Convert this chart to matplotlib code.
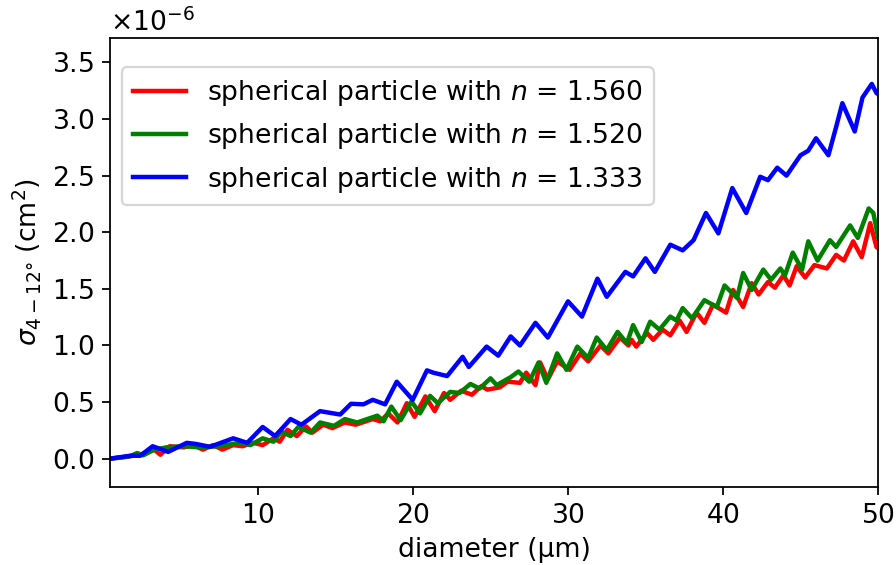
import numpy as np
import matplotlib
matplotlib.use("Agg")
import matplotlib.pyplot as plt

plt.rcParams["font.size"] = 12
plt.rcParams["axes.formatter.use_mathtext"] = True

# values, cross sections in units of 1e-6 cm^2
d_1333 = [0.45, 1.74, 2.4, 3.2, 4.2, 5.4, 6.0, 6.9, 8.4, 9.3, 10.3, 11.1, 12.1, 12.8,
          14.0, 15.3, 16.0, 16.8, 17.4, 18.2, 18.95, 19.98, 20.9, 21.3, 22.2, 23.2,
          23.6, 24.75, 25.5, 26.3, 26.9, 27.9, 28.7, 30.0, 30.9, 31.9, 32.5, 33.7,
          34.2, 35.0, 35.6, 36.6, 37.4, 38.1, 38.9, 39.7, 40.6, 41.5, 42.4, 42.9,
          43.5, 44.1, 45.0, 45.5, 46.0, 46.8, 47.3, 47.7, 48.5, 49.0, 49.6, 49.9, 50.0]
s_1333 = [0.0, 0.026, 0.026, 0.11, 0.06, 0.14, 0.13, 0.105, 0.18, 0.14, 0.28, 0.20, 0.35, 0.30,
          0.42, 0.39, 0.485, 0.48, 0.52, 0.48, 0.68, 0.52, 0.78, 0.76, 0.73, 0.90,
          0.81, 0.99, 0.91, 1.08, 1.00, 1.20, 1.07, 1.39, 1.255, 1.59, 1.43, 1.65,
          1.61, 1.77, 1.65, 1.89, 1.84, 1.93, 2.17, 1.99, 2.39, 2.17, 2.49, 2.46,
          2.57, 2.50, 2.68, 2.72, 2.83, 2.68, 2.93, 3.14, 2.89, 3.19, 3.31, 3.23, 3.22]

d_1520 = [0.45, 1.7, 2.2, 2.6, 3.3, 4.1, 5.2, 6.3, 7.5, 8.8, 9.5, 10.3, 11.0, 11.5, 12.1,
          12.6, 13.4, 14.0, 14.9, 15.6, 16.4, 17.7, 18.1, 18.6, 19.2, 19.9, 20.45,
          21.1, 21.6, 22.4, 23.0, 23.7, 24.3, 25.0, 25.4, 26.3, 26.8, 27.5, 28.1,
          28.6, 29.3, 29.9, 30.6, 31.3, 31.85, 32.5, 33.2, 33.8, 34.2, 34.75, 35.3,
          35.9, 36.6, 37.0, 37.4, 38.0, 38.8, 39.6, 40.1, 40.9, 41.3, 41.85, 42.6,
          43.1, 43.7, 44.0, 44.5, 45.1, 45.5, 46.1, 46.9, 47.3, 48.2, 48.7, 49.4,
          49.7, 50.0]
s_1520 = [0.0, 0.02, 0.05, 0.03, 0.08, 0.10, 0.11, 0.10, 0.11, 0.14, 0.12, 0.18, 0.15, 0.24, 0.20,
          0.28, 0.23, 0.32, 0.29, 0.35, 0.32, 0.38, 0.33, 0.46, 0.34, 0.505, 0.40,
          0.555, 0.49, 0.59, 0.58, 0.66, 0.62, 0.71, 0.65, 0.72, 0.77, 0.68, 0.85,
          0.67, 0.93, 0.785, 0.99, 0.89, 1.07, 0.96, 1.12, 1.02, 1.18, 1.03, 1.21,
          1.14, 1.255, 1.22, 1.33, 1.24, 1.40, 1.34, 1.53, 1.42, 1.64, 1.49, 1.67,
          1.58, 1.68, 1.62, 1.82, 1.67, 1.92, 1.75, 1.93, 1.87, 2.06, 1.95, 2.21,
          2.17, 1.96]

d_1560 = [0.45, 1.7, 2.5, 3.3, 3.7, 4.3, 5.2, 5.8, 6.45, 7.1, 7.7, 8.4, 9.0, 9.7, 10.3,
          11.0, 11.4, 11.9, 12.5, 13.1, 13.5, 14.2, 14.8, 15.6, 16.3, 17.4, 17.9,
          18.4, 19.0, 19.6, 20.1, 20.8, 21.4, 22.0, 22.4, 23.1, 23.8, 24.4, 24.8,
          25.6, 26.1, 26.9, 27.3, 27.9, 28.2, 28.7, 29.3, 30.1, 30.8, 31.3, 32.1,
          32.6, 33.35, 33.9, 34.1, 34.4, 35.1, 35.5, 36.1, 36.6, 37.2, 37.65, 38.3,
          38.8, 39.35, 40.2, 40.65, 41.3, 41.85, 42.3, 42.9, 43.35, 43.9, 44.3,
          44.75, 45.3, 45.9, 46.7, 47.3, 47.8, 48.4, 48.95, 49.5, 49.9, 50.0]
s_1560 = [0.0, 0.02, 0.04, 0.08, 0.035, 0.11, 0.10, 0.12, 0.08, 0.12, 0.08, 0.12, 0.11, 0.14, 0.12,
          0.18, 0.15, 0.255, 0.20, 0.285, 0.23, 0.30, 0.27, 0.32, 0.30, 0.35, 0.33,
          0.40, 0.32, 0.49, 0.37, 0.55, 0.42, 0.58, 0.52, 0.60, 0.565, 0.64, 0.61,
          0.63, 0.68, 0.67, 0.76, 0.65, 0.85, 0.70, 0.86, 0.785, 0.93, 0.86, 1.00,
          0.93, 1.07, 1.00, 1.05, 0.99, 1.11, 1.05, 1.14, 1.09, 1.22, 1.12, 1.29,
          1.20, 1.36, 1.29, 1.49, 1.34, 1.55, 1.45, 1.56, 1.51, 1.62, 1.53,
          1.70, 1.60, 1.71, 1.68, 1.80, 1.75, 1.92, 1.78, 2.08, 1.87, 1.86]

labels = ["spherical particle with $n$ = 1.560",
          "spherical particle with $n$ = 1.520",
          "spherical particle with $n$ = 1.333"]

fig = plt.figure(figsize=(5.6, 3.53125), dpi=160)
ax = fig.add_axes([110/896, 1-487/565, 768/896, 449.5/565])

ax.plot(d_1560, np.array(s_1560)*1e-6, color="red", lw=2, label=labels[0])
ax.plot(d_1520, np.array(s_1520)*1e-6, color="green", lw=2, label=labels[1])
ax.plot(d_1333, np.array(s_1333)*1e-6, color="blue", lw=2, label=labels[2])

ax.set_xlim(0.45, 50)
ax.set_ylim(-0.25e-6, 3.72e-6)
ax.set_xticks([10, 20, 30, 40, 50])
ax.set_xlabel("diameter (µm)")
ax.set_ylabel(r"$\sigma_{4-12°}$ (cm$^2$)")
ax.legend(loc="upper left", bbox_to_anchor=(0.0156, 0.934), borderaxespad=0)

fig.savefig("out.png", dpi=160)
